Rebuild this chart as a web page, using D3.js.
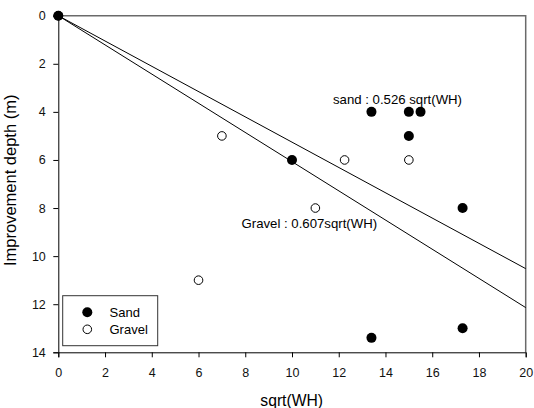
<!DOCTYPE html>
<html>
<head>
<meta charset="utf-8">
<script src="https://cdn.jsdelivr.net/npm/d3@7"></script>
<style>
  body { margin: 0; background: #fff; }
  text { font-family: "Liberation Sans", Arial, sans-serif; }
</style>
</head>
<body>
<svg id="chart" width="534" height="408"></svg>
<script>
// Sand points: sqrt(WH) and improvement depth (m)
const sandX = [0, 13.4, 15, 15.5, 15, 10, 17.3, 13.4, 17.3];
const sandY = [0, 4, 4, 4, 5, 6, 8, 13.4, 13];
// Gravel points
const gravelX = [0, 7, 12.25, 15, 11, 6];
const gravelY = [0, 5, 6, 6, 8, 11];
// Fitted coefficients: depth = k * sqrt(WH)
const fitSand = 0.526;
const fitGravel = 0.607;
const xTicks = [0, 2, 4, 6, 8, 10, 12, 14, 16, 18, 20];
const yTicks = [0, 2, 4, 6, 8, 10, 12, 14];

const svg = d3.select("#chart");
const plotL = 58.3, plotR = 525.7, plotT = 15.7, plotB = 352.3;
const x = d3.scaleLinear().domain([0, 20]).range([plotL, plotR]);
const y = d3.scaleLinear().domain([0, 14]).range([plotT, plotB]);

// Frame (top and right edges)
svg.append("path")
  .attr("d", `M${plotL},${plotT}H${plotR}V${plotB}`)
  .attr("fill", "none").attr("stroke", "#6a6a6a").attr("stroke-width", 1.5);

// Axes
const xAxis = svg.append("g").attr("transform", `translate(0,${plotB})`)
  .call(d3.axisBottom(x).tickValues(xTicks).tickFormat(d3.format("d")).tickSizeOuter(0).tickSize(5).tickPadding(10.5));
const yAxis = svg.append("g").attr("transform", `translate(${plotL},0)`)
  .call(d3.axisLeft(y).tickValues(yTicks).tickFormat(d3.format("d")).tickSizeOuter(0).tickSize(5).tickPadding(7.5));
[xAxis, yAxis].forEach(g => {
  g.select(".domain").attr("stroke", "#000").attr("stroke-width", 1);
  g.selectAll(".tick line").attr("stroke", "#000");
  g.selectAll(".tick text").attr("font-size", 12.5).attr("fill", "#111")
    .style("font-family", "'Liberation Sans', Arial, sans-serif");
});

// Fitted lines
[fitSand, fitGravel].forEach(k => {
  svg.append("line")
    .attr("x1", x(0)).attr("y1", y(0))
    .attr("x2", x(20)).attr("y2", y(k * 20))
    .attr("stroke", "#000").attr("stroke-width", 1);
});

// Gravel markers (open)
svg.append("g").selectAll("circle").data(gravelX.map((d, i) => [d, gravelY[i]]))
  .join("circle")
  .attr("cx", d => x(d[0])).attr("cy", d => y(d[1])).attr("r", 4.3)
  .attr("fill", "#fff").attr("stroke", "#000").attr("stroke-width", 1);

// Sand markers (filled)
svg.append("g").selectAll("circle").data(sandX.map((d, i) => [d, sandY[i]]))
  .join("circle")
  .attr("cx", d => x(d[0])).attr("cy", d => y(d[1])).attr("r", 5)
  .attr("fill", "#000");

// Equation labels
svg.append("text").attr("x", 333).attr("y", 104).attr("font-size", 13.2)
  .text(`sand : ${fitSand} sqrt(WH)`);
svg.append("text").attr("x", 241.5).attr("y", 227.5).attr("font-size", 13.2)
  .text(`Gravel : ${fitGravel}sqrt(WH)`);

// Axis titles
svg.append("text").attr("x", 291.7).attr("y", 406)
  .attr("text-anchor", "middle").attr("font-size", 15.7).text("sqrt(WH)");
svg.append("text").attr("transform", `translate(16,180.3) rotate(-90)`)
  .attr("text-anchor", "middle").attr("font-size", 16.5).text("Improvement depth (m)");

// Legend
const lg = svg.append("g");
lg.append("rect").attr("x", 62.7).attr("y", 295.7).attr("width", 95).attr("height", 50)
  .attr("fill", "#fff").attr("stroke", "#333").attr("stroke-width", 1);
const legendItems = [["Sand", true], ["Gravel", false]];
legendItems.forEach(([name, filled], i) => {
  const cy = 312.3 + i * 17;
  lg.append("circle").attr("cx", 87.3).attr("cy", cy).attr("r", filled ? 5 : 4.3)
    .attr("fill", filled ? "#000" : "#fff").attr("stroke", "#000").attr("stroke-width", filled ? 0 : 1);
  lg.append("text").attr("x", 109.5).attr("y", cy + 4.7).attr("font-size", 13).text(name);
});
</script>
</body>
</html>
